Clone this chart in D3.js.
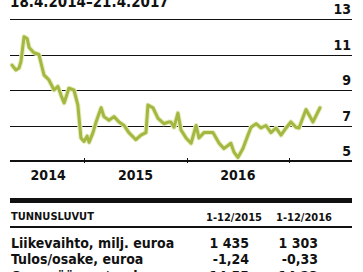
<!DOCTYPE html>
<html><head><meta charset="utf-8">
<script src="https://cdn.jsdelivr.net/npm/d3@7"></script>
<style>
html,body{margin:0;padding:0;background:#fff;}
svg{display:block;}
text{font-family:"DejaVu Sans Condensed","DejaVu Sans",sans-serif;fill:#111;}
</style></head>
<body>
<svg id="c" width="363" height="272"></svg>
<script>
const title = "18.4.2014–21.4.2017";
const dates = ["2014-04-18","2014-05-02","2014-05-13","2014-05-20","2014-05-31","2014-06-11","2014-06-18","2014-07-05","2014-07-23","2014-08-10","2014-08-28","2014-09-15","2014-09-29","2014-10-10","2014-10-21","2014-11-07","2014-11-25","2014-12-09","2014-12-20","2014-12-31","2015-01-11","2015-01-18","2015-02-01","2015-02-12","2015-03-02","2015-03-12","2015-03-30","2015-04-17","2015-05-05","2015-05-23","2015-06-09","2015-07-04","2015-07-22","2015-08-09","2015-08-16","2015-09-03","2015-09-21","2015-10-12","2015-10-30","2015-11-06","2015-11-17","2015-12-01","2015-12-12","2015-12-30","2016-01-17","2016-02-04","2016-02-14","2016-03-03","2016-04-04","2016-04-26","2016-05-13","2016-06-07","2016-06-18","2016-07-02","2016-07-20","2016-08-07","2016-08-18","2016-09-05","2016-09-22","2016-10-10","2016-10-28","2016-11-15","2016-12-03","2016-12-21","2017-01-07","2017-01-25","2017-02-05","2017-03-02","2017-03-27","2017-04-21"];
const prices = [10.4,10.13,10.24,10.6,12.0,11.9,11.4,11.1,11.0,9.85,9.56,9.0,9.2,8.7,8.27,9.1,9.0,8.15,6.3,6.1,6.4,6.05,6.6,7.2,8.0,7.5,7.3,7.5,7.2,7.0,6.6,6.2,6.46,6.6,8.15,8.0,7.4,7.1,7.2,7.2,6.9,7.7,6.75,6.3,6.0,7.0,6.3,6.6,6.6,6.0,5.7,6.0,5.5,5.2,5.7,6.46,6.9,7.1,6.86,7.0,6.6,6.86,6.46,6.86,7.2,6.9,6.86,7.9,7.2,8.0];
const yTicks = [5,7,9,11,13];
const years = [2014,2015,2016];
const tableHead = ["TUNNUSLUVUT","1-12/2015","1-12/2016"];
const rowLabels = ["Liikevaihto, milj. euroa","Tulos/osake, euroa","Oma pääoma/osake, euroa"];
const col2015 = ["1 435","-1,24","14,55"];
const col2016 = ["1 303","-0,33","14,23"];

const svg = d3.select("#c");
const parse = d3.timeParse("%Y-%m-%d");
const data = dates.map((d,i)=>({date:parse(d), v:prices[i]}));
const start = parse(dates[0]), end = parse(dates[dates.length-1]);

const x = d3.scaleTime().domain([start,end]).range([12,320]);
const y = d3.scaleLinear().domain([5,13]).range([161,19]);
const gx0 = 10, gx1 = 352;

// title
svg.append("text").attr("x",10).attr("y",7).attr("font-size",15).attr("font-weight","bold").text(title);

// gridlines
svg.append("g").selectAll("line").data(yTicks.filter(t=>t!==5)).join("line")
  .attr("x1",gx0).attr("x2",gx1).attr("y1",d=>Math.round(y(d))+0.5).attr("y2",d=>Math.round(y(d))+0.5)
  .attr("stroke","#111").attr("stroke-width",1);
// y labels
svg.append("g").selectAll("text").data(yTicks).join("text")
  .attr("x",351).attr("y",d=>y(d)-5).attr("text-anchor","end")
  .attr("font-size",14).attr("font-weight","bold").text(d=>d);

// line
const lineGen = d3.line().x(d=>x(d.date)).y(d=>y(d.v)).curve(d3.curveLinear);
svg.append("path").datum(data).attr("d",lineGen)
  .attr("fill","none").attr("stroke","#e6edc0").attr("stroke-width",5).attr("stroke-linejoin","round").attr("stroke-linecap","round");
svg.append("path").datum(data).attr("d",lineGen)
  .attr("fill","none").attr("stroke","#a2b840").attr("stroke-width",3).attr("stroke-linejoin","round").attr("stroke-linecap","round");

// x axis
svg.append("line").attr("x1",gx0).attr("x2",gx1).attr("y1",y(5)).attr("y2",y(5)).attr("stroke","#111").attr("stroke-width",2);
const tickDates = [2015,2016,2017].map(yr=>new Date(yr,0,1));
svg.append("g").selectAll("line").data(tickDates).join("line")
  .attr("x1",d=>Math.round(x(d))+0.5).attr("x2",d=>Math.round(x(d))+0.5)
  .attr("y1",y(5)-3).attr("y2",y(5)+2).attr("stroke","#111").attr("stroke-width",1);
svg.append("g").selectAll("text").data(years).join("text")
  .attr("x",yr=>{const a=Math.max(+new Date(yr,0,1),+start), b=Math.min(+new Date(yr+1,0,1),+end); return x(new Date((a+b)/2));})
  .attr("y",180).attr("text-anchor","middle").attr("font-size",14).attr("font-weight","bold").text(d=>d);

// table
svg.append("rect").attr("x",gx0).attr("y",198).attr("width",gx1-gx0).attr("height",5).attr("fill","#111");
svg.append("text").attr("x",11).attr("y",220).attr("font-size",11).attr("font-weight","bold").text(tableHead[0]);
svg.append("text").attr("x",262).attr("y",221).attr("text-anchor","end").attr("font-size",11).attr("font-weight","bold").text(tableHead[1]);
svg.append("text").attr("x",332).attr("y",221).attr("text-anchor","end").attr("font-size",11).attr("font-weight","bold").text(tableHead[2]);
svg.append("rect").attr("x",gx0).attr("y",226).attr("width",gx1-gx0).attr("height",2).attr("fill","#111");

const rowY = [248,264,281];
const rows = svg.append("g").selectAll("g").data(rowLabels).join("g");
rows.append("text").attr("x",11).attr("y",(d,i)=>rowY[i]).attr("font-size",14).attr("font-weight","bold").text(d=>d);
rows.append("text").attr("x",249).attr("y",(d,i)=>rowY[i]).attr("text-anchor","end").attr("font-size",14).attr("font-weight","bold").text((d,i)=>col2015[i]);
rows.append("text").attr("x",318).attr("y",(d,i)=>rowY[i]).attr("text-anchor","end").attr("font-size",14).attr("font-weight","bold").text((d,i)=>col2016[i]);
</script>
</body></html>
